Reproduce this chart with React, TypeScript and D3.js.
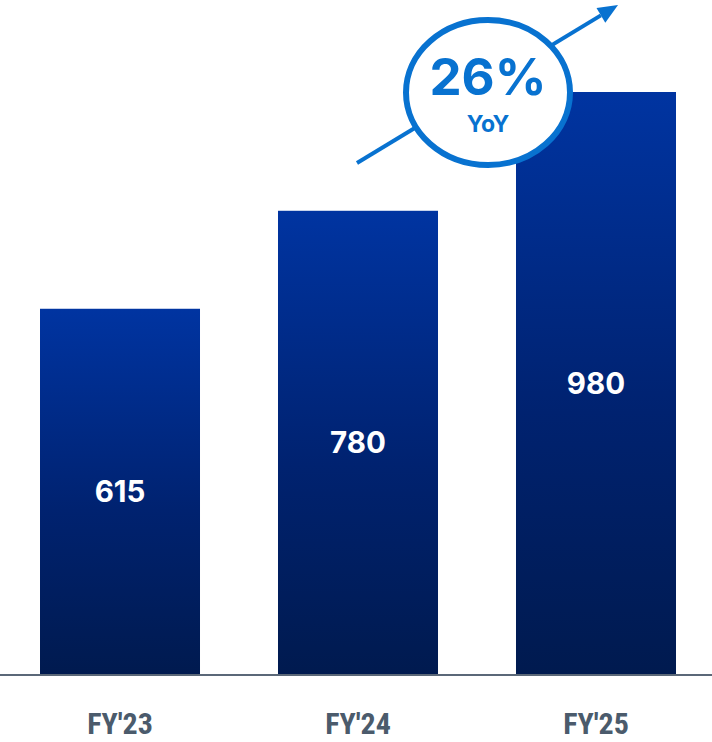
import React from "react";
import * as d3 from "d3";

const categories = ["FY'23", "FY'24", "FY'25"];
const values = [615, 780, 980];
const valueLabels = ["615", "780", "980"];
const badgeValue = "26%";
const badgeLabel = "YoY";

const W = 712;
const H = 742;

export default function App() {
  const x = d3
    .scaleBand<string>()
    .domain(categories)
    .range([40, 676])
    .paddingInner(0.3277)
    .paddingOuter(0);
  const y = d3.scaleLinear().domain([0, 980]).range([674, 92]);

  const blue = "#0872d0";
  const arrowStart: [number, number] = [357, 163];
  const arrowEnd: [number, number] = [618, 5];
  const ang = Math.atan2(arrowEnd[1] - arrowStart[1], arrowEnd[0] - arrowStart[0]);
  const headLen = 20;
  const headHalf = 8.5;
  const bx = arrowEnd[0] - headLen * Math.cos(ang);
  const by = arrowEnd[1] - headLen * Math.sin(ang);
  const px = -Math.sin(ang);
  const py = Math.cos(ang);
  const head = [
    [arrowEnd[0], arrowEnd[1]],
    [bx + px * headHalf, by + py * headHalf],
    [bx - px * headHalf, by - py * headHalf],
  ];
  const line = d3.line();

  return (
    <svg
      width={W}
      height={H}
      style={{ position: "absolute", left: 0, top: 0, background: "#fff" }}
    >
      <defs>
        <linearGradient id="barGrad" x1="0" y1="0" x2="0" y2="1">
          <stop offset="0%" stopColor="#0034a1" />
          <stop offset="55%" stopColor="#002270" />
          <stop offset="100%" stopColor="#001a4f" />
        </linearGradient>
      </defs>
      {categories.map((c, i) => (
        <rect
          key={c}
          x={x(c)}
          y={y(values[i])}
          width={x.bandwidth()}
          height={y(0) - y(values[i])}
          fill="url(#barGrad)"
        />
      ))}
      <line x1={0} x2={W} y1={675} y2={675} stroke="#5b6878" strokeWidth={2} />
      {categories.map((c, i) => (
        <text
          key={"v" + c}
          x={(x(c) as number) + x.bandwidth() / 2}
          y={(y(values[i]) + y(0)) / 2}
          dy="0.36em"
          textAnchor="middle"
          fill="#fff"
          fontFamily="Inter, Roboto, sans-serif"
          fontWeight={700}
          fontSize={29.5}
        >
          {valueLabels[i]}
        </text>
      ))}
      {categories.map((c) => (
        <text
          key={"l" + c}
          x={(x(c) as number) + x.bandwidth() / 2}
          y={734}
          textAnchor="middle"
          fill="#4b5b6c"
          fontFamily="'Liberation Sans Narrow', 'Roboto Condensed', Roboto, sans-serif"
          fontWeight={700}
          fontSize={30}
        >
          {c}
        </text>
      ))}
      <path
        d={line([arrowStart, [bx, by]]) || ""}
        stroke={blue}
        strokeWidth={4}
        fill="none"
      />
      <path d={line(head as [number, number][]) + "Z"} fill={blue} />
      <ellipse cx={488} cy={92.5} rx={82} ry={72.5} fill="#fff" stroke={blue} strokeWidth={6} />
      <text
        x={488}
        y={95}
        textAnchor="middle"
        fill={blue}
        fontFamily="Inter, Roboto, sans-serif"
        fontWeight={700}
        fontSize={51}
      >
        {badgeValue}
      </text>
      <text
        x={488}
        y={132}
        textAnchor="middle"
        fill={blue}
        fontFamily="Inter, Roboto, sans-serif"
        fontWeight={700}
        fontSize={23}
      >
        {badgeLabel}
      </text>
    </svg>
  );
}
